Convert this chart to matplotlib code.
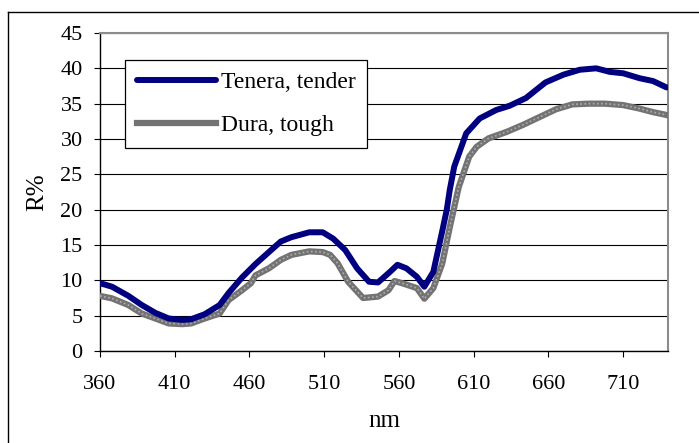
import matplotlib
matplotlib.use("Agg")
import matplotlib.pyplot as plt
from matplotlib.lines import Line2D

plt.rcParams["font.family"] = ["Liberation Serif", "DejaVu Serif"]

# wavelength (nm) and reflectance (%)
tenera_nm = [360, 368, 379, 388, 397, 406, 415, 421, 430, 440, 446, 455, 464,
             473, 481, 488, 500, 509, 516, 524, 532, 540, 546, 554, 559, 565,
             572, 577, 583, 589, 592, 594, 597, 605, 614, 625, 634, 645, 658,
             670, 681, 692, 701, 710, 721, 730, 739]
tenera_r = [9.6, 9.1, 7.8, 6.5, 5.4, 4.6, 4.4, 4.5, 5.2, 6.5, 8.2, 10.4, 12.3,
            14.0, 15.5, 16.1, 16.8, 16.8, 15.9, 14.3, 11.7, 9.8, 9.7, 11.2,
            12.2, 11.7, 10.5, 9.1, 11.2, 17.0, 20.0, 22.8, 26.1, 30.8, 32.9,
            34.1, 34.7, 35.8, 38.0, 39.1, 39.8, 40.0, 39.5, 39.3, 38.6, 38.2,
            37.3]

dura_nm = [360, 368, 379, 388, 397, 406, 415, 421, 430, 440, 446, 455, 461,
           464, 473, 481, 488, 500, 509, 514, 519, 526, 536, 546, 553, 557,
           562, 572, 577, 583, 589, 594, 600, 607, 612, 620, 632, 643, 654,
           665, 676, 687, 698, 710, 721, 730, 739]
dura_r = [7.8, 7.45, 6.5, 5.3, 4.6, 3.9, 3.8, 3.9, 4.6, 5.3, 7.2, 8.6, 9.6,
          10.7, 11.7, 12.9, 13.6, 14.1, 14.0, 13.6, 12.4, 9.8, 7.5, 7.7, 8.6,
          9.9, 9.6, 8.9, 7.4, 8.9, 12.4, 17.5, 23.2, 27.5, 28.9, 30.1, 31.0,
          32.0, 33.1, 34.2, 34.9, 35.0, 35.0, 34.8, 34.3, 33.8, 33.4]

x_ticks = [360, 410, 460, 510, 560, 610, 660, 710]
y_ticks = list(range(0, 50, 5))


def main():
    fig = plt.figure(figsize=(6.99, 4.43), dpi=100)
    ax = fig.add_axes([100 / 699, 1 - 351 / 443, 568 / 699, 318 / 443])

    # outer chart frame (cropped at right and bottom)
    fig.add_artist(Line2D([8 / 699, 1], [1 - 12 / 443] * 2, color="black", lw=1))
    fig.add_artist(Line2D([8 / 699] * 2, [0, 1 - 12 / 443], color="black", lw=1))

    # series
    ax.plot(tenera_nm, tenera_r, color="#000080", lw=4.3, solid_capstyle="round",
            solid_joinstyle="round", label="Tenera, tender", zorder=4)
    ax.plot(dura_nm, dura_r, color="#737373", lw=4.5, zorder=3,
            solid_joinstyle="round", label="Dura, tough")
    ax.plot(dura_nm, dura_r, color="#adadad", lw=1.2, ls=(0, (1, 1.5)), zorder=3)

    ax.set_xlim(360, 740)
    ax.set_ylim(0, 45)
    ax.set_xticks(x_ticks)
    ax.set_yticks(y_ticks)
    ax.yaxis.grid(True, color="black", lw=0.8)
    ax.set_axisbelow(True)

    for side in ("top", "right"):
        ax.spines[side].set_color("#8c8c8c")
        ax.spines[side].set_linewidth(1.5)
    for side in ("left", "bottom"):
        ax.spines[side].set_color("black")
        ax.spines[side].set_linewidth(1)

    ax.tick_params(axis="x", direction="out", length=4.5, pad=13, labelsize=16)
    ax.tick_params(axis="y", direction="out", length=4.5, pad=8, labelsize=16)

    ax.set_xlabel("nm", fontsize=18, labelpad=11)
    ax.set_ylabel("R%", fontsize=18, labelpad=9)

    leg = ax.legend(loc="upper left", bbox_to_anchor=(0.0440, 0.915),
                    borderaxespad=0, fontsize=17, handlelength=3.35,
                    labelspacing=0.9, fancybox=False, edgecolor="black",
                    framealpha=1, borderpad=0.5, handletextpad=0.2)
    leg.get_frame().set_linewidth(0.9)

    fig.savefig("out.png", dpi=100)


if __name__ == "__main__":
    main()
